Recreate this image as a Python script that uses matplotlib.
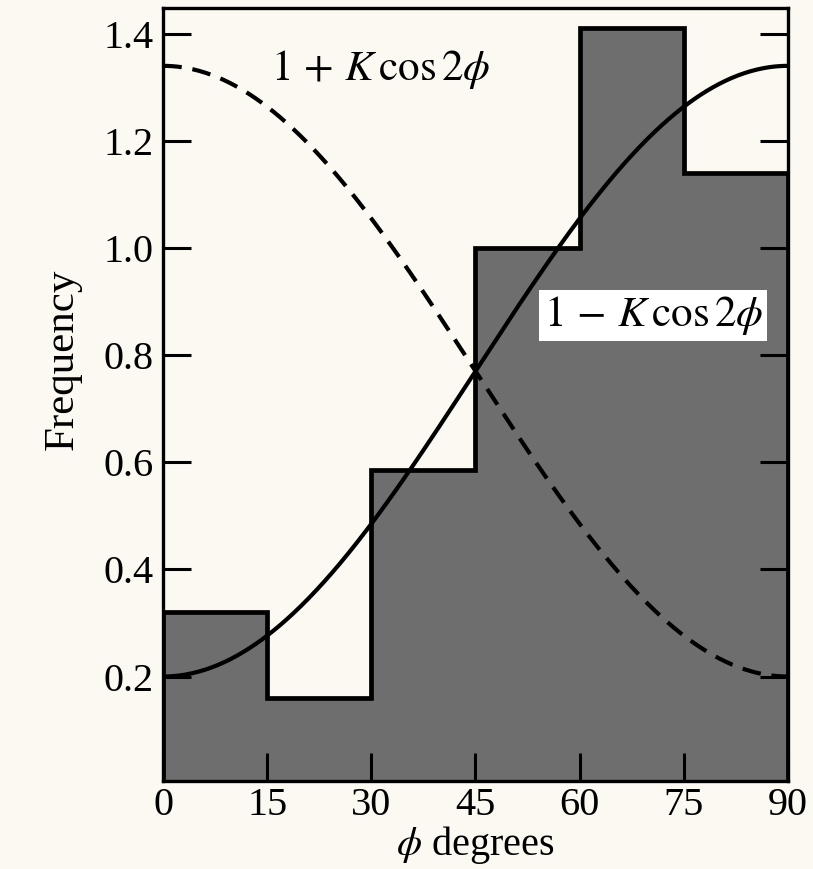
import numpy as np
import matplotlib
matplotlib.use('Agg')
from matplotlib import pyplot as plt

# histogram of phi (degrees)
bin_edges = [0, 15, 30, 45, 60, 75, 90]
freq = [0.32, 0.16, 0.585, 1.0, 1.41, 1.14]

# fitted curves: mean * (1 +/- K cos 2phi)
curve_mean = 0.77
curve_amp = 0.57

x_ticks = [0, 15, 30, 45, 60, 75, 90]
y_ticks = [0.2, 0.4, 0.6, 0.8, 1.0, 1.2, 1.4]

plt.rcParams['font.family'] = ['Liberation Serif', 'DejaVu Serif']
plt.rcParams['mathtext.fontset'] = 'stix'

paper = '#fbf9f1'
fig = plt.figure(figsize=(8.13, 8.69), dpi=100, facecolor=paper)
ax = fig.add_axes([0.2005, 0.1013, 0.7687, 0.8895])
ax.set_facecolor(paper)

ax.stairs(freq, bin_edges, fill=True, color='#6e6e6e', zorder=1)
ax.stairs(freq, bin_edges, color='black', linewidth=3.4, zorder=2)

phi = np.linspace(0, 90, 400)
c2 = np.cos(np.radians(2 * phi))
ax.plot(phi, curve_mean - curve_amp * c2, color='black',
        linewidth=3.0, zorder=3)
ax.plot(phi, curve_mean + curve_amp * c2, color='black',
        linewidth=3.0, zorder=3, dashes=(4.5, 2.6))

ax.text(15.6, 1.334, r'$1\,+\,K\,\cos 2\phi$', fontsize=31, va='center', ha='left', zorder=4)
ax.text(70.6, 0.874, r'$1\,-\,K\,\cos 2\phi$', fontsize=31, va='center', ha='center', zorder=4,
        bbox=dict(boxstyle='square,pad=0.1', facecolor='white', edgecolor='none'))

ax.set_xlim(0, 90)
ax.set_ylim(0.005, 1.448)
ax.set_xticks(x_ticks)
ax.set_yticks(y_ticks)
ax.set_yticklabels([f'{v:.1f}' for v in y_ticks])
ax.tick_params(axis='both', direction='in', length=20, width=2.2, labelsize=29,
               right=True, pad=7, zorder=5)
ax.tick_params(axis='x', pad=4)
for s in ax.spines.values():
    s.set_linewidth(2.4)
    s.set_zorder(5)

ax.set_ylabel('Frequency', fontsize=31)
ax.yaxis.set_label_coords(-0.13, 0.545)
ax.set_xlabel(r'$\phi$ degrees', fontsize=29, labelpad=0)

fig.savefig('out.png', dpi=100, facecolor=paper)
